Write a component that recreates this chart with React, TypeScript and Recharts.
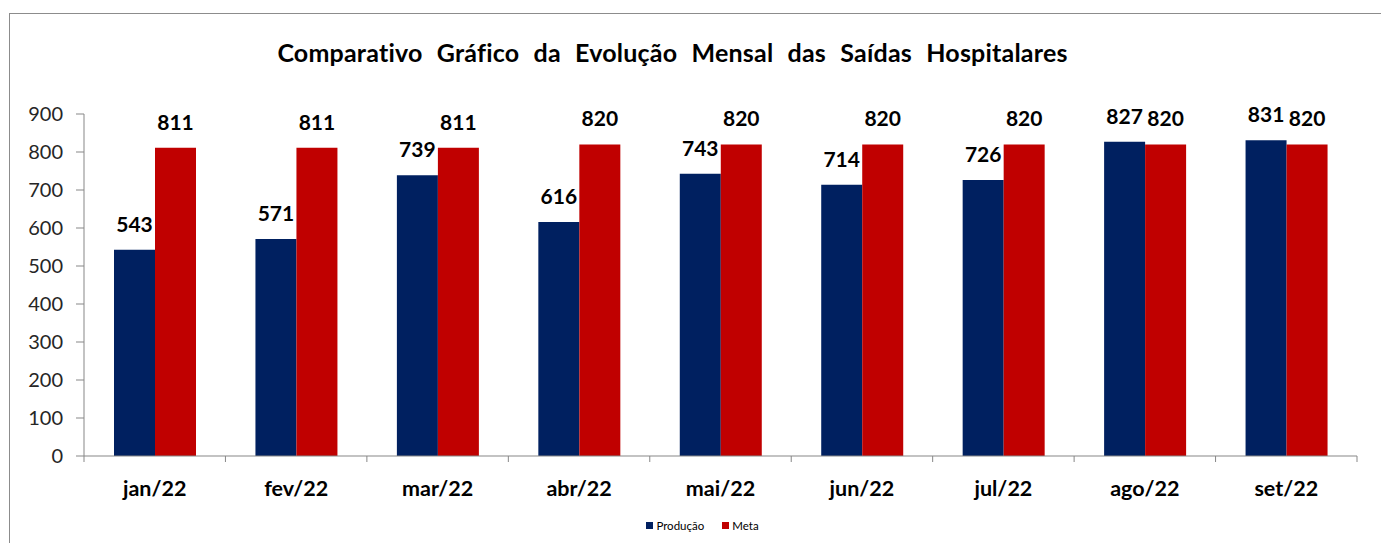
import React from "react"
import { BarChart, Bar, XAxis, YAxis, Legend, LabelList } from "recharts"

const months = ["jan/22", "fev/22", "mar/22", "abr/22", "mai/22", "jun/22", "jul/22", "ago/22", "set/22"]
const producao = [543, 571, 739, 616, 743, 714, 726, 827, 831]
const meta = [811, 811, 811, 820, 820, 820, 820, 820, 820]
const yTicks = [0, 100, 200, 300, 400, 500, 600, 700, 800, 900]

const data = months.map((m, i) => ({ month: m, producao: producao[i], meta: meta[i] }))

const FONT = "Lato, 'Open Sans', sans-serif"
const AXIS = "#878787"
const NAVY = "#002060"
const RED = "#C00000"

const X_TICK_SIZE = 6
const X_TICK_MARGIN = 19

const MonthTick = (props: any) => {
  const { x, y, payload, index, visibleTicksCount } = props
  const half = payload?.offset ?? 70.7
  const axisY = y - X_TICK_SIZE - X_TICK_MARGIN
  const isLast = index === visibleTicksCount - 1
  return (
    <g>
      <line x1={x - half} x2={x - half} y1={axisY} y2={axisY + X_TICK_SIZE} stroke={AXIS} />
      {isLast && <line x1={x + half} x2={x + half} y1={axisY} y2={axisY + X_TICK_SIZE} stroke={AXIS} />}
      <text x={x} y={y} dy="0.71em" textAnchor="middle" fontSize={21.5} fontWeight={700} fill="#000" fontFamily={FONT}>
        {payload.value}
      </text>
    </g>
  )
}

const LegendContent = () => (
  <div style={{ display: "flex", justifyContent: "center", alignItems: "center", gap: 18, paddingLeft: 38, fontFamily: FONT, fontSize: 11.5, color: "#000", height: 25 }}>
    <span style={{ display: "flex", alignItems: "center", gap: 3 }}>
      <span style={{ width: 7, height: 7, background: NAVY, display: "inline-block" }} />
      Produção
    </span>
    <span style={{ display: "flex", alignItems: "center", gap: 3 }}>
      <span style={{ width: 7, height: 7, background: RED, display: "inline-block" }} />
      Meta
    </span>
  </div>
)

export default function App() {
  return (
    <div
      style={{
        position: "relative",
        marginTop: 5,
        marginLeft: 1,
        width: 1380,
        height: 530,
        borderTop: "1px solid #8c8c8c",
        borderLeft: "1px solid #8c8c8c",
        background: "#fff",
      }}
    >
      <div
        style={{
          position: "absolute",
          top: 24,
          left: 0,
          width: 1325,
          textAlign: "center",
          fontFamily: FONT,
          fontWeight: 700,
          fontSize: 25,
          lineHeight: "28px",
          color: "#000",
          letterSpacing: 0.2,
          wordSpacing: 8,
        }}
      >
        Comparativo Gráfico da Evolução Mensal das Saídas Hospitalares
      </div>
      <BarChart
        width={1380}
        height={530}
        data={data}
        margin={{ top: 100, right: 33, left: 0, bottom: 6 }}
        barCategoryGap={30}
        barGap={0}
      >
        <YAxis
          domain={[0, 900]}
          ticks={yTicks}
          width={74}
          tickSize={8}
          tickMargin={13}
          axisLine={{ stroke: AXIS }}
          tickLine={{ stroke: AXIS }}
          tick={{ fontSize: 20, fill: "#262626", fontFamily: FONT }}
          interval={0}
        />
        <XAxis
          dataKey="month"
          height={57}
          axisLine={{ stroke: AXIS }}
          tickLine={false}
          tickSize={X_TICK_SIZE}
          tickMargin={X_TICK_MARGIN}
          tick={<MonthTick />}
          interval={0}
        />
        <Legend verticalAlign="bottom" height={25} content={<LegendContent />} />
        <Bar dataKey="producao" name="Produção" fill={NAVY} isAnimationActive={false}>
          <LabelList dataKey="producao" position="top" offset={18} fontSize={21} fontWeight={700} fill="#000" fontFamily={FONT} />
        </Bar>
        <Bar dataKey="meta" name="Meta" fill={RED} isAnimationActive={false}>
          <LabelList dataKey="meta" position="top" offset={18} fontSize={21} fontWeight={700} fill="#000" fontFamily={FONT} />
        </Bar>
      </BarChart>
    </div>
  )
}
